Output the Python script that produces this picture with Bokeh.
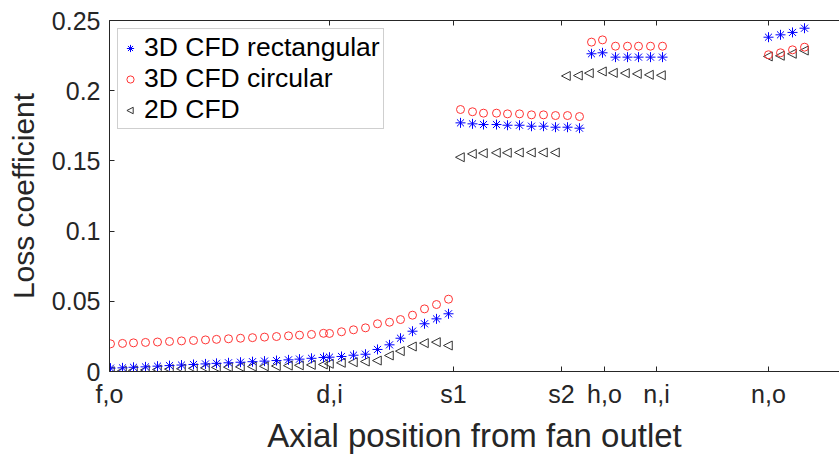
import math
from bokeh.plotting import figure
from bokeh.models import (Range1d, LinearAxis, FixedTicker, Legend, LegendItem,
                          CustomJSTickFormatter, ColumnDataSource, Scatter, CustomJS)
from bokeh.embed import file_html
from bokeh.resources import INLINE

# ---------------- data ----------------
x_3d = [0.01, 0.13, 0.24, 0.36, 0.48, 0.60, 0.72, 0.84, 0.96, 1.07, 1.19, 1.31, 1.43, 1.55, 1.67, 1.79, 1.90, 2.02, 2.14,
        2.20, 2.32, 2.44, 2.56, 2.68, 2.80, 2.91, 3.03, 3.15, 3.27, 3.39,
        3.51, 3.63, 3.74, 3.87, 3.98, 4.10, 4.22, 4.34, 4.46, 4.58, 4.70,
        4.82, 4.93, 5.06, 5.18, 5.29, 5.41, 5.53,
        6.59, 6.71, 6.83, 6.95]
x_2d = [0.01, 0.13, 0.24, 0.36, 0.48, 0.60, 0.72, 0.84, 0.96, 1.07, 1.19, 1.31, 1.43, 1.55, 1.67, 1.79, 1.90, 2.02, 2.14,
        2.20, 2.32, 2.44, 2.56, 2.68, 2.80, 2.91, 3.03, 3.15, 3.27, 3.39,
        3.51, 3.63, 3.74, 3.87, 3.98, 4.10, 4.22, 4.34, 4.46,
        4.57, 4.69, 4.80, 4.93, 5.04, 5.16, 5.28, 5.40, 5.52,
        6.59, 6.71, 6.83, 6.95]

loss_3d_rect = [0.0024, 0.0026, 0.0030, 0.0033, 0.0038, 0.0042, 0.0046, 0.0050, 0.0054, 0.0058, 0.0062, 0.0066, 0.0070,
                0.0074, 0.0078, 0.0083, 0.0088, 0.0094, 0.0100,
                0.0102, 0.0107, 0.0116, 0.0123, 0.0157, 0.0190, 0.0237, 0.0287, 0.0340, 0.0375, 0.0411,
                0.1771, 0.1764, 0.1759, 0.1759, 0.1754, 0.1754, 0.1747, 0.1747, 0.1740, 0.1740, 0.1733,
                0.2263, 0.2270, 0.2239, 0.2239, 0.2239, 0.2239, 0.2239,
                0.2381, 0.2398, 0.2415, 0.2445]
loss_3d_circ = [0.0197, 0.0200, 0.0204, 0.0207, 0.0210, 0.0214, 0.0218, 0.0221, 0.0225, 0.0229, 0.0233, 0.0237, 0.0241,
                0.0245, 0.0249, 0.0254, 0.0259, 0.0264, 0.0272,
                0.0271, 0.0283, 0.0297, 0.0311, 0.0340, 0.0351, 0.0370, 0.0401, 0.0446, 0.0477, 0.0515,
                0.1866, 0.1850, 0.1840, 0.1840, 0.1835, 0.1835, 0.1828, 0.1828, 0.1823, 0.1823, 0.1816,
                0.2346, 0.2362, 0.2317, 0.2317, 0.2317, 0.2317, 0.2317,
                0.2256, 0.2270, 0.2291, 0.2310]
loss_2d = [0.0002, 0.0005, 0.0008, 0.0011, 0.0014, 0.0017, 0.0020, 0.0023, 0.0026, 0.0029, 0.0031, 0.0033, 0.0035,
           0.0037, 0.0039, 0.0042, 0.0044, 0.0047, 0.0050,
           0.0055, 0.0062, 0.0066, 0.0071, 0.0078, 0.0114, 0.0145, 0.0178, 0.0202, 0.0209, 0.0185,
           0.1526, 0.1550, 0.1555, 0.1558, 0.1558, 0.1560, 0.1560, 0.1560, 0.1560,
           0.2105, 0.2108, 0.2125, 0.2137, 0.2127, 0.2125, 0.2120, 0.2113, 0.2110,
           0.2244, 0.2249, 0.2263, 0.2286]

x_tick_pos = [0.0, 2.20, 3.44, 4.52, 4.95, 5.47, 6.59]
x_tick_labels = ["f,o", "d,i", "s1", "s2", "h,o", "n,i", "n,o"]
y_tick_pos = [0.0, 0.05, 0.1, 0.15, 0.2, 0.25]
y_tick_labels = ["0", "0.05", "0.1", "0.15", "0.2", "0.25"]

series_names = ["3D CFD rectangular", "3D CFD circular", "2D CFD"]

# ---------------- figure ----------------
FONT = "Liberation Sans"
TXT = "#262626"

p = figure(width=839, height=458, output_backend="svg", toolbar_location=None,
           x_range=Range1d(0, 7.30), y_range=Range1d(0, 0.25),
           min_border_left=109, min_border_right=0, min_border_top=20, min_border_bottom=87,
           x_axis_label="Axial position from fan outlet", y_axis_label="Loss coefficient")
p.outline_line_color = None
p.xgrid.visible = False
p.ygrid.visible = False
p.background_fill_color = "white"
p.border_fill_color = "white"

for ax in (p.xaxis[0], p.yaxis[0]):
    ax.axis_line_color = TXT
    ax.major_tick_line_color = TXT
    ax.major_tick_in = 5
    ax.major_tick_out = 0
    ax.minor_tick_line_color = None
    ax.major_label_text_font = FONT
    ax.major_label_text_font_size = "25px"
    ax.major_label_text_color = TXT
    ax.axis_label_text_font = FONT
    ax.axis_label_text_font_style = "normal"
    ax.axis_label_text_color = TXT

p.xaxis.axis_label_text_font_size = "33px"
p.yaxis.axis_label_text_font_size = "30px"

p.xaxis.ticker = FixedTicker(ticks=x_tick_pos)
p.xaxis.major_label_overrides = {v: s for v, s in zip(x_tick_pos, x_tick_labels)}
p.xaxis.major_label_standoff = 8
p.xaxis.axis_label_standoff = 6

p.yaxis.ticker = FixedTicker(ticks=y_tick_pos)
p.yaxis.major_label_overrides = {v: s for v, s in zip(y_tick_pos, y_tick_labels)}
p.yaxis.major_label_standoff = 9
p.yaxis.axis_label_standoff = 9

top_axis = LinearAxis(ticker=FixedTicker(ticks=x_tick_pos),
                      formatter=CustomJSTickFormatter(code="return ''"),
                      axis_line_color=TXT, major_tick_line_color=TXT,
                      major_tick_in=5, major_tick_out=0, minor_tick_line_color=None,
                      major_label_standoff=0)
p.add_layout(top_axis, "above")

src3 = ColumnDataSource(dict(x=x_3d, rect=loss_3d_rect, circ=loss_3d_circ))
src2 = ColumnDataSource(dict(x=x_2d, y=loss_2d))

# custom left-pointing triangle marker (so that the legend also shows it pointing left)
tri_left_js = CustomJS(code="""
const d = (typeof cb_data !== "undefined") ? cb_data : null;
if (d == null || d.ctx == null) { return; }
const ctx = d.ctx, i = d.i, r = d.r, visuals = d.visuals;
ctx.beginPath();
ctx.moveTo(-r, 0);
ctx.lineTo(0.75 * r, -0.9 * r);
ctx.lineTo(0.75 * r, 0.9 * r);
ctx.closePath();
if (visuals != null) {
  if (visuals.fill) visuals.fill.apply(ctx, i);
  if (visuals.line) visuals.line.apply(ctx, i);
}
""")
tri_glyph = Scatter(x="x", y="y", marker="@tri_left", size=10,
                    defs={"@tri_left": tri_left_js},
                    fill_color=None, line_color="#333333", line_width=1)
r3 = p.add_glyph(src2, tri_glyph)
r2 = p.scatter("x", "circ", source=src3, marker="circle", size=8,
               fill_color=None, line_color="#ff3333", line_width=1)
r1 = p.scatter("x", "rect", source=src3, marker="asterisk", size=10,
               line_color="#0000ff", line_width=1)

legend = Legend(items=[LegendItem(label=series_names[0], renderers=[r1]),
                       LegendItem(label=series_names[1], renderers=[r2]),
                       LegendItem(label=series_names[2], renderers=[r3])],
                location="top_left", margin=8, padding=3, spacing=0,
                glyph_width=18, glyph_height=20, label_standoff=5, label_height=20,
                label_text_font=FONT, label_text_font_size="26.5px", label_text_color="black",
                border_line_color="#a0a0a0", border_line_width=1,
                background_fill_color="white", background_fill_alpha=1.0)
p.add_layout(legend)

open("out.html", "w").write(file_html(p, INLINE))
